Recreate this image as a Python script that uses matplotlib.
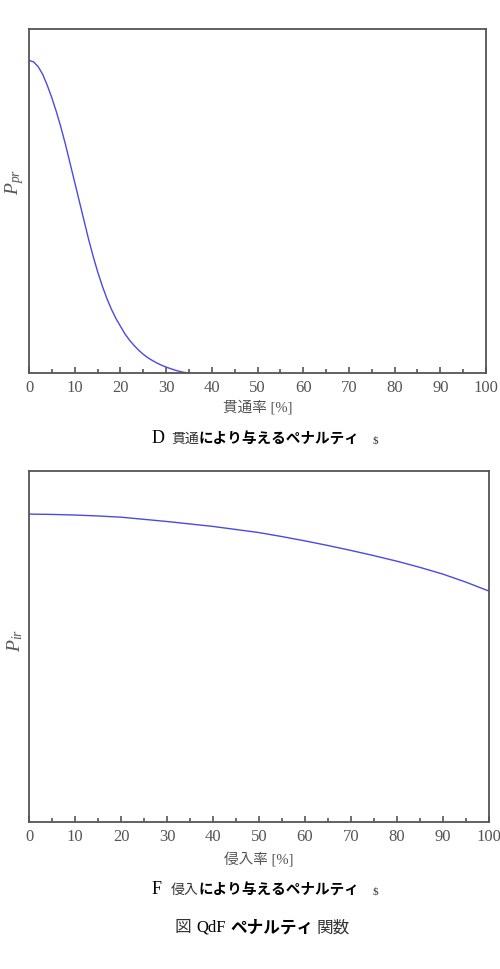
import matplotlib
matplotlib.use("Agg")
import matplotlib.pyplot as plt
from matplotlib.ticker import MultipleLocator

plt.rcParams['font.family'] = ['Noto Sans CJK JP', 'DejaVu Sans']
plt.rcParams['mathtext.fontset'] = 'custom'
plt.rcParams['mathtext.it'] = 'Liberation Serif:italic'
plt.rcParams['mathtext.rm'] = 'Liberation Serif'

# top panel: penetration penalty
pr_rate = [0, 1, 2, 3, 4, 5, 6, 7, 8, 9, 10, 11, 12, 13, 14, 15, 16, 17, 18,
           19, 20, 21, 22, 23, 24, 25, 26, 27, 28, 29, 30, 31, 32, 33, 34, 35]
pr_penalty = [1.0, 0.995, 0.98, 0.955, 0.92, 0.88, 0.835, 0.785, 0.73, 0.67,
              0.61, 0.55, 0.49, 0.43, 0.375, 0.325, 0.28, 0.24, 0.205, 0.175,
              0.15, 0.125, 0.105, 0.088, 0.073, 0.06, 0.049, 0.04, 0.032,
              0.025, 0.019, 0.014, 0.009, 0.005, 0.002, 0.0]

# bottom panel: intrusion penalty
ir_rate = [0, 5, 10, 15, 20, 25, 30, 35, 40, 45, 50, 55, 60, 65, 70, 75, 80,
           85, 90, 95, 100]
ir_penalty = [1.0, 0.999, 0.997, 0.994, 0.99, 0.983, 0.976, 0.968, 0.96, 0.95,
              0.94, 0.927, 0.913, 0.898, 0.882, 0.865, 0.847, 0.827, 0.805,
              0.779, 0.75]

xticks = [0, 10, 20, 30, 40, 50, 60, 70, 80, 90, 100]
xlabel_top = "貫通率 [%]"
xlabel_bot = "侵入率 [%]"
ylabel_top = r"$P_{pr}$"
ylabel_bot = r"$P_{ir}$"

fig = plt.figure(figsize=(5, 9.7), dpi=100)
line_color = "#4a4ae0"
spine_color = "#555555"
text_color = "#555555"

def style(ax, xlabel, ylim_top, labelpad):
    ax.set_xlim(0, 100)
    ax.set_ylim(0, ylim_top)
    ax.set_xticks(xticks)
    ax.xaxis.set_minor_locator(MultipleLocator(5))
    ax.set_yticks([])
    ax.tick_params(axis='x', which='major', direction='in', length=4, width=1.2,
                   color=spine_color, labelcolor=text_color, labelsize=12, pad=4)
    ax.tick_params(axis='x', which='minor', direction='in', length=3, width=1.2,
                   color=spine_color)
    ax.tick_params(top=False, right=False)
    for lab in ax.get_xticklabels():
        lab.set_family('Liberation Serif')
    for s in ax.spines.values():
        s.set_color(spine_color)
        s.set_linewidth(1.3)
    ax.set_xlabel(xlabel, fontsize=10.5, color=text_color, labelpad=labelpad,
                  family=['Liberation Serif', 'Noto Sans CJK JP'])

ax1 = fig.add_axes([0.058, 0.6144, 0.914, 0.3546])
ax1.plot(pr_rate, pr_penalty, color=line_color, lw=1.0)
style(ax1, xlabel_top, 1.1, 3)

ax2 = fig.add_axes([0.058, 0.1515, 0.92, 0.3619])
ax2.plot(ir_rate, ir_penalty, color=line_color, lw=1.0)
style(ax2, xlabel_bot, 1.14, 6)

fig.text(15/500, 1 - 182/970, ylabel_top, fontsize=14, rotation=90,
         va='center', ha='center', color=text_color)
fig.text(15/500, 1 - 640/970, ylabel_bot, fontsize=14, rotation=90,
         va='center', ha='center', color=text_color)

def caption(y, mark, kanji, rest, close):
    fig.text(152/500, 1 - y/970, mark, fontsize=13, family='Liberation Serif',
             va='center', ha='left', color='black')
    fig.text(171/500, 1 - y/970, kanji, fontsize=10, va='center', ha='left',
             color='#333333')
    fig.text(198/500, 1 - y/970, rest, fontsize=10.5, va='center', ha='left',
             fontweight='bold', color='black')
    fig.text(375/500, 1 - (y + 2)/970, close, fontsize=8, family='Liberation Serif',
             va='center', ha='center', color='#333333')

caption(439, "D", "貫通", "により与えるペナルティ", "$")
caption(890, "F", "侵入", "により与えるペナルティ", "$")

fig.text(174/500, 1 - 928/970, "図", fontsize=12, va='center', ha='left', color='#333333')
fig.text(196/500, 1 - 928/970, "QdF", fontsize=12, va='center', ha='left',
         family='Liberation Serif', color='black')
fig.text(230/500, 1 - 928/970, "ペナルティ", fontsize=12, va='center', ha='left',
         fontweight='bold', color='black')
fig.text(316/500, 1 - 928/970, "関数", fontsize=12, va='center', ha='left', color='#333333')

fig.savefig("out.png", dpi=100)
